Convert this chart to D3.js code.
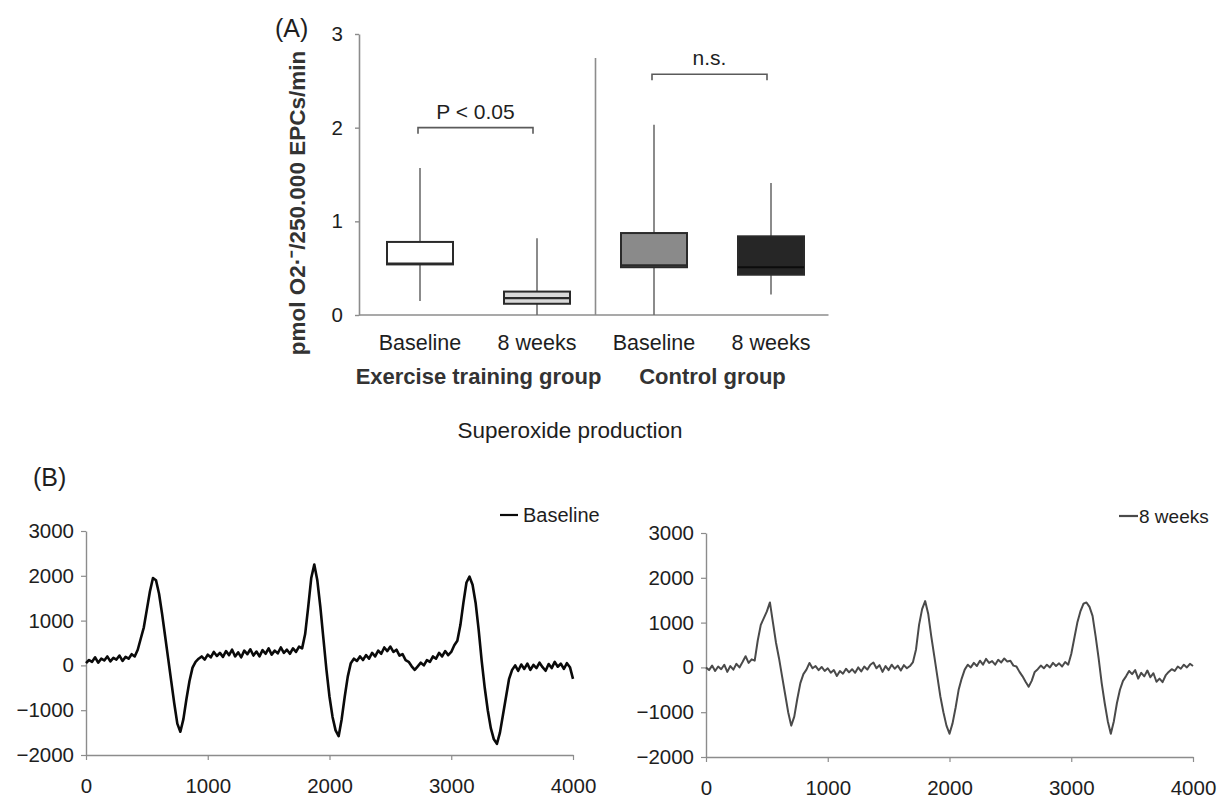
<!DOCTYPE html>
<html>
<head>
<meta charset="utf-8">
<script src="https://cdn.jsdelivr.net/npm/d3@7"></script>
<style>
  html, body { margin: 0; padding: 0; background: #fff; }
  svg { display: block; font-family: "Liberation Sans", Arial, Helvetica, sans-serif; }
</style>
</head>
<body>
<svg id="chart" width="1228" height="800"></svg>
<script>
// ---------- Panel A data (box plots) ----------
const boxKeys = ["exBase", "ex8w", "ctBase", "ct8w"];
const boxLabels = ["Baseline", "8 weeks", "Baseline", "8 weeks"];
const groupLabels = ["Exercise training group", "Control group"];
const whiskerLow = [0.15, 0.0, 0.0, 0.22];
const q1 = [0.54, 0.12, 0.51, 0.43];
const median = [0.55, 0.18, 0.53, 0.51];
const q3 = [0.78, 0.25, 0.875, 0.84];
const whiskerHigh = [1.57, 0.82, 2.03, 1.41];
const boxFills = ["#ffffff", "#d9d9d9", "#8a8a8a", "#262626"];
const yTicksA = [0, 1, 2, 3];
const sigLabels = ["P < 0.05", "n.s."];

// ---------- Panel B data (traces) ----------
const traceTimes = d3.range(0, 4001, 25);
const baselineTrace = [
  50,120,80,180,60,150,110,200,90,170,
  130,220,100,190,150,250,200,350,600,850,
  1250,1650,1950,1900,1600,1150,650,150,-350,-850,
  -1300,-1480,-1200,-750,-350,-50,80,150,200,130,
  240,180,300,210,280,190,320,230,350,200,
  290,180,330,250,360,220,310,200,340,260,
  380,240,330,270,400,280,350,260,380,300,
  420,380,700,1300,1950,2250,1900,1300,600,-100,
  -700,-1150,-1450,-1580,-1200,-700,-250,50,150,100,
  200,120,230,150,280,200,330,260,400,320,
  420,300,350,220,250,120,80,-20,-100,-20,
  60,0,120,80,200,150,280,200,320,230,
  300,450,550,900,1400,1850,1980,1800,1400,800,
  100,-500,-1000,-1400,-1650,-1750,-1500,-1100,-700,-300,
  -100,0,-120,20,-80,40,-100,10,-60,60,
  -40,-120,30,-60,80,-30,40,-80,50,-40,
  -300
];
const weeks8Trace = [
  0,-60,40,-80,20,-40,60,-100,30,-50,
  80,0,120,250,100,180,150,600,950,1100,
  1250,1450,1000,550,200,-200,-600,-1000,-1300,-1100,
  -700,-350,-150,-50,100,-20,30,-60,10,-80,
  -20,-120,-60,-190,-80,-140,-30,-110,-40,-120,
  0,-90,20,-50,60,110,-20,50,-100,30,
  -60,60,-30,40,-70,50,-20,30,120,400,
  950,1300,1480,1200,700,250,-200,-650,-1000,-1300,
  -1480,-1250,-900,-500,-250,-50,60,0,100,30,
  150,60,190,100,140,60,170,110,200,130,
  150,40,20,-100,-200,-320,-430,-300,-100,-40,
  40,-20,60,0,100,30,90,20,120,60,
  300,650,1000,1250,1420,1450,1350,1150,700,200,
  -350,-800,-1200,-1480,-1200,-800,-500,-300,-200,-80,
  -150,-60,-250,-120,-200,-70,-220,-130,-320,-250,
  -330,-180,-100,-40,-80,20,-30,60,0,80,
  30
];
const yTicksB = [-2000, -1000, 0, 1000, 2000, 3000];
const xTicksB = [0, 1000, 2000, 3000, 4000];
const seriesNames = ["Baseline", "8 weeks"];

const svg = d3.select("#chart");
const axisGray = "#8c8c8c";
const textCol = "#1e1e1e";
const plainInt = d3.format("d");

// ================= Panel A =================
const yA = d3.scaleLinear().domain([0, 3]).range([315, 34]);
const xA = d3.scaleBand().domain(boxKeys).range([361.5, 829.5]);
const boxW = 66;

const gA = svg.append("g");

// y axis
const yAxisA = gA.append("g").attr("transform", "translate(359,0)")
  .call(d3.axisLeft(yA).tickValues(yTicksA).tickFormat(plainInt).tickSize(4).tickSizeOuter(0).tickPadding(12));
yAxisA.select(".domain").attr("stroke", axisGray).attr("stroke-width", 1.6);
yAxisA.selectAll(".tick line").attr("stroke", axisGray).attr("stroke-width", 1.4);
yAxisA.selectAll(".tick text").attr("font-size", 20.5).attr("fill", textCol).attr("font-family", "Liberation Sans, Arial, sans-serif");

// x axis baseline
gA.append("line")
  .attr("x1", 359).attr("x2", xA.range()[1] - 1)
  .attr("y1", yA(0)).attr("y2", yA(0))
  .attr("stroke", axisGray).attr("stroke-width", 1.6);

// group divider
const divX = (xA("ex8w") + xA.bandwidth() / 2 + xA("ctBase") + xA.bandwidth() / 2) / 2;
gA.append("line")
  .attr("x1", divX).attr("x2", divX)
  .attr("y1", 58).attr("y2", yA(0))
  .attr("stroke", axisGray).attr("stroke-width", 1.6);

// boxes
boxKeys.forEach((k, i) => {
  const cx = xA(k) + xA.bandwidth() / 2;
  gA.append("line")
    .attr("x1", cx).attr("x2", cx)
    .attr("y1", yA(whiskerLow[i])).attr("y2", yA(whiskerHigh[i]))
    .attr("stroke", "#6e6e6e").attr("stroke-width", 1.6);
  gA.append("rect")
    .attr("x", cx - boxW / 2).attr("width", boxW)
    .attr("y", yA(q3[i])).attr("height", yA(q1[i]) - yA(q3[i]))
    .attr("fill", boxFills[i])
    .attr("stroke", "#2a2a2a").attr("stroke-width", 2);
  gA.append("line")
    .attr("x1", cx - boxW / 2).attr("x2", cx + boxW / 2)
    .attr("y1", yA(median[i])).attr("y2", yA(median[i]))
    .attr("stroke", i === 3 ? "#0c0c0c" : "#2a2a2a").attr("stroke-width", 2.2);
  gA.append("text")
    .attr("x", cx).attr("y", 350)
    .attr("text-anchor", "middle")
    .attr("font-size", 21.5).attr("fill", textCol)
    .text(boxLabels[i]);
});

// group labels
[["exBase", "ex8w"], ["ctBase", "ct8w"]].forEach((pair, gi) => {
  const c1 = xA(pair[0]) + xA.bandwidth() / 2;
  const c2 = xA(pair[1]) + xA.bandwidth() / 2;
  gA.append("text")
    .attr("x", (c1 + c2) / 2).attr("y", 384)
    .attr("text-anchor", "middle")
    .attr("font-size", 22).attr("font-weight", "bold").attr("fill", "#333")
    .text(groupLabels[gi]);
});

// significance brackets
const brackets = [
  { a: "exBase", b: "ex8w", level: 2.0, label: sigLabels[0] },
  { a: "ctBase", b: "ct8w", level: 2.57, label: sigLabels[1] }
];
brackets.forEach(br => {
  const x1 = xA(br.a) + xA.bandwidth() / 2 - 2;
  const x2 = xA(br.b) + xA.bandwidth() / 2 - 4;
  const yb = yA(br.level);
  gA.append("path")
    .attr("d", `M${x1},${yb + 6}V${yb}H${x2}V${yb + 6}`)
    .attr("fill", "none").attr("stroke", "#5a5a5a").attr("stroke-width", 1.6);
  gA.append("text")
    .attr("x", (x1 + x2) / 2).attr("y", yb - 9)
    .attr("text-anchor", "middle")
    .attr("font-size", 21).attr("fill", textCol)
    .text(br.label);
});

// y label
gA.append("text")
  .attr("transform", "translate(305,203) rotate(-90)")
  .attr("text-anchor", "middle")
  .attr("font-size", 22.5).attr("font-weight", "bold").attr("fill", "#333")
  .text("pmol O2·⁻/250.000 EPCs/min");

// panel letter
gA.append("text").attr("x", 275).attr("y", 37)
  .attr("font-size", 25).attr("fill", textCol).text("(A)");

// subtitle
svg.append("text").attr("x", 570).attr("y", 438)
  .attr("text-anchor", "middle")
  .attr("font-size", 22.5).attr("fill", textCol)
  .text("Superoxide production");

svg.append("text").attr("x", 33).attr("y", 486)
  .attr("font-size", 25).attr("fill", textCol).text("(B)");

// ================= Panel B =================
function tracePanel(x0, x1, yTop, yBottom, values, color, sw, legendName, legend) {
  const x = d3.scaleLinear().domain([0, 4000]).range([x0, x1]);
  const y = d3.scaleLinear().domain([-2000, 3000]).range([yBottom, yTop]);
  const g = svg.append("g");

  const ya = g.append("g").attr("transform", `translate(${x0},0)`)
    .call(d3.axisLeft(y).tickValues(yTicksB).tickFormat(plainInt).tickSize(5).tickSizeOuter(0).tickPadding(7));
  const xa = g.append("g").attr("transform", `translate(0,${yBottom})`)
    .call(d3.axisBottom(x).tickValues(xTicksB).tickFormat(plainInt).tickSize(5).tickSizeOuter(0).tickPadding(18));
  [ya, xa].forEach(a => {
    a.select(".domain").attr("stroke", axisGray).attr("stroke-width", 1.4);
    a.selectAll(".tick line").attr("stroke", axisGray).attr("stroke-width", 1.2);
    a.selectAll(".tick text").attr("font-size", 20.5).attr("fill", textCol)
      .attr("font-family", "Liberation Sans, Arial, sans-serif");
  });

  const line = d3.line().x((d, i) => x(traceTimes[i])).y(d => y(d));
  g.append("path").datum(values)
    .attr("d", line)
    .attr("fill", "none").attr("stroke", color).attr("stroke-width", sw)
    .attr("stroke-linejoin", "round");

  g.append("line")
    .attr("x1", legend.lx1).attr("x2", legend.lx2)
    .attr("y1", legend.ly).attr("y2", legend.ly)
    .attr("stroke", color).attr("stroke-width", 2.2);
  g.append("text")
    .attr("x", legend.tx).attr("y", legend.ty)
    .attr("font-size", legend.fs).attr("fill", textCol)
    .text(legendName);
}

tracePanel(86, 573, 531, 755, baselineTrace, "#0a0a0a", 2.6, seriesNames[0],
  { lx1: 500, lx2: 518, ly: 515, tx: 523, ty: 522, fs: 20 });
tracePanel(706, 1193, 533, 757, weeks8Trace, "#4a4a4a", 2.0, seriesNames[1],
  { lx1: 1119, lx2: 1138, ly: 516, tx: 1139, ty: 523, fs: 19 });
</script>
</body>
</html>
